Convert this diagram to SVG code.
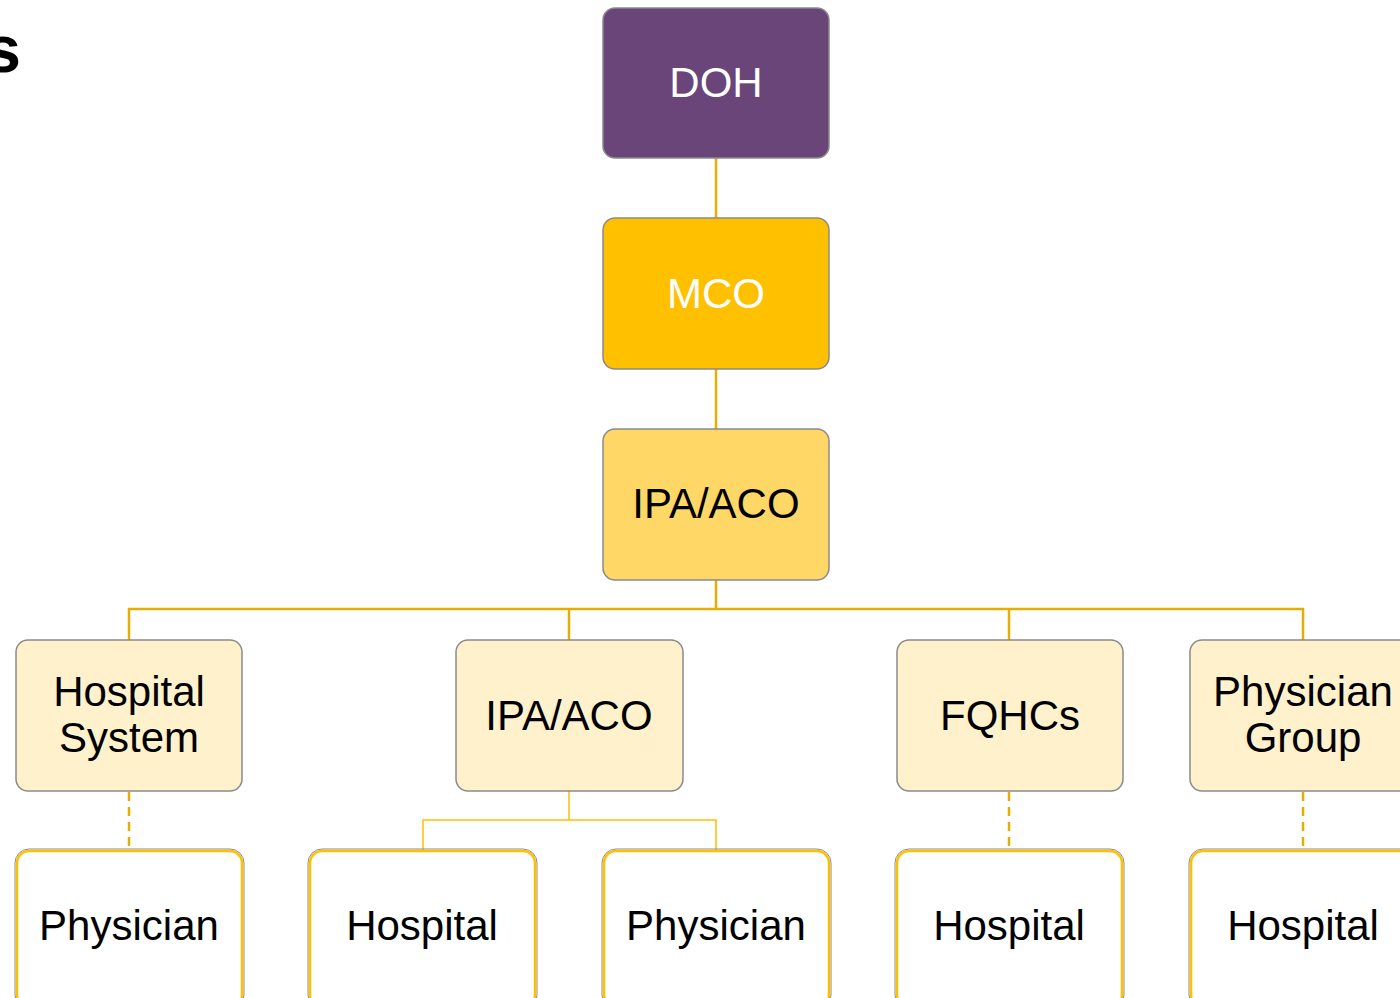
<svg xmlns="http://www.w3.org/2000/svg" width="1400" height="998" viewBox="0 0 1400 998">
<style>
  .box{stroke:#8a8a8a;stroke-width:1.5}
  .t{font-family:"Liberation Sans",Arial,sans-serif;font-size:42px;text-anchor:middle;fill:#000}
  .w{fill:#fff}
  .c{fill:none;stroke:#E8AD00;stroke-width:2.5}
  .c2{fill:none;stroke:#FFC000;stroke-width:1.5}
  .d{fill:none;stroke:#E8AD00;stroke-width:2.5;stroke-dasharray:9,6}
  .leaf{fill:#fff;stroke:#FFC000;stroke-width:2.5}
  .leafo{fill:none;stroke:#8a8a8a;stroke-width:1}
</style>
<rect width="1400" height="998" fill="#fff"/>
<text x="21" y="72" font-family="Liberation Sans,Arial,sans-serif" font-weight="bold" font-size="66" text-anchor="end" fill="#000">s</text>
<g id="connectors">
  <line class="c" x1="716" y1="158" x2="716" y2="218"/>
  <line class="c" x1="716" y1="369" x2="716" y2="429"/>
  <path class="c" d="M716 580V609M129 640V609H1303V640M569 609V640M1009 609V640"/>
  <path class="c2" d="M569 791V820M423 850V820H716V850"/>
  <line class="d" x1="129" y1="792" x2="129" y2="850"/>
  <line class="d" x1="1009" y1="792" x2="1009" y2="850"/>
  <line class="d" x1="1303" y1="792" x2="1303" y2="850"/>
</g>
<g id="doh"><rect class="box" x="603" y="8" width="226" height="150" rx="12" fill="#69457A" stroke="#5a5a5a"/><text class="t w" x="716" y="97">DOH</text></g>
<g id="mco"><rect class="box" x="603" y="218" width="226" height="151" rx="12" fill="#FFC000"/><text class="t w" x="716" y="308">MCO</text></g>
<g id="ipa-aco-top"><rect class="box" x="603" y="429" width="226" height="151" rx="12" fill="#FED766"/><text class="t" x="716" y="518">IPA/ACO</text></g>
<g id="hospital-system"><rect class="box" x="16" y="640" width="226" height="151" rx="12" fill="#FFF1CC"/><text class="t" x="129" y="706">Hospital</text><text class="t" x="129" y="752">System</text></g>
<g id="ipa-aco-2"><rect class="box" x="456" y="640" width="227" height="151" rx="12" fill="#FFF1CC"/><text class="t" x="569" y="730">IPA/ACO</text></g>
<g id="fqhcs"><rect class="box" x="897" y="640" width="226" height="151" rx="12" fill="#FFF1CC"/><text class="t" x="1010" y="730">FQHCs</text></g>
<g id="physician-group"><rect class="box" x="1190" y="640" width="226" height="151" rx="12" fill="#FFF1CC"/><text class="t" x="1303" y="706">Physician</text><text class="t" x="1303" y="752">Group</text></g>
<g id="physician-1"><rect class="leafo" x="15" y="849" width="229" height="160" rx="14"/><rect class="leaf" x="17" y="851" width="225" height="156" rx="12"/><text class="t" x="129" y="940">Physician</text></g>
<g id="hospital-1"><rect class="leafo" x="308" y="849" width="229" height="160" rx="14"/><rect class="leaf" x="310" y="851" width="225" height="156" rx="12"/><text class="t" x="422" y="940">Hospital</text></g>
<g id="physician-2"><rect class="leafo" x="602" y="849" width="229" height="160" rx="14"/><rect class="leaf" x="604" y="851" width="225" height="156" rx="12"/><text class="t" x="716" y="940">Physician</text></g>
<g id="hospital-2"><rect class="leafo" x="895" y="849" width="229" height="160" rx="14"/><rect class="leaf" x="897" y="851" width="225" height="156" rx="12"/><text class="t" x="1009" y="940">Hospital</text></g>
<g id="hospital-3"><rect class="leafo" x="1189" y="849" width="229" height="160" rx="14"/><rect class="leaf" x="1191" y="851" width="225" height="156" rx="12"/><text class="t" x="1303" y="940">Hospital</text></g>
</svg>
